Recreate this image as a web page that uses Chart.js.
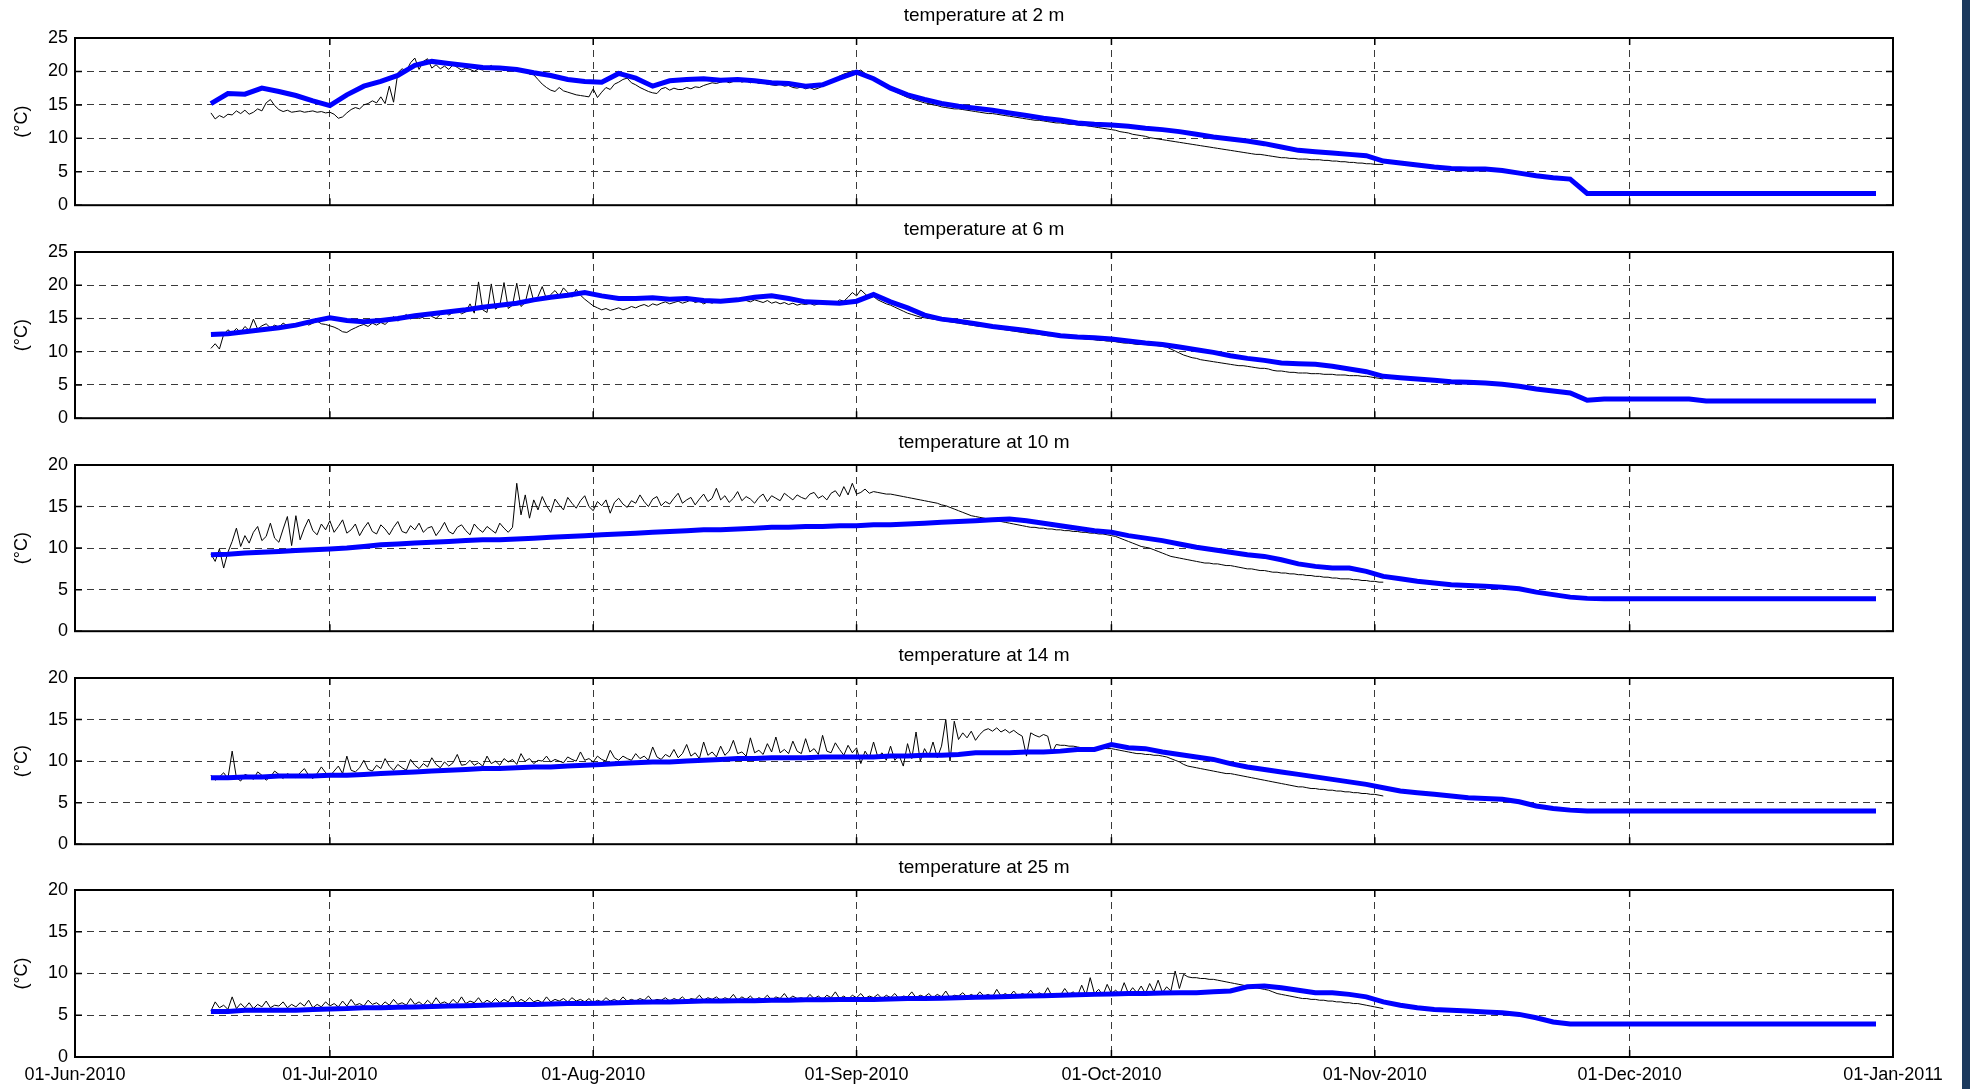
<!DOCTYPE html>
<html>
<head>
<meta charset="utf-8">
<script src="https://cdn.jsdelivr.net/npm/chart.js@4.4.1/dist/chart.umd.min.js"></script>
<style>
html, body { margin: 0; padding: 0; background: #fff; }
body { width: 1970px; height: 1089px; position: relative; overflow: hidden; }
canvas { position: absolute; left: 0; }
#bar { position: absolute; left: 1962px; top: 0; width: 8px; height: 1089px; background: #1c3a5e; }
</style>
</head>
<body>
<div id="bar"></div>
<script>
// x axis: days counted from 01-Jun-2010
var monthDays = [0, 30, 61, 92, 122, 153, 183, 214];
var monthLabels = ['01-Jun-2010', '01-Jul-2010', '01-Aug-2010', '01-Sep-2010', '01-Oct-2010', '01-Nov-2010', '01-Dec-2010', '01-Jan-2011'];

var depthTitles = ['temperature at 2 m', 'temperature at 6 m', 'temperature at 10 m', 'temperature at 14 m', 'temperature at 25 m'];
var yMax = [25, 25, 20, 20, 20];

// measured series, one value every half day from day 16
var OBS_START = 16, OBS_STEP = 0.5;
var obs2m = [
  13.8, 12.9, 13.4, 13.1, 13.6, 13.5, 14.1, 13.7, 14.2, 13.6,
  13.9, 14.4, 14.1, 15.3, 15.8, 14.9, 14.3, 14.0, 14.2, 13.9,
  14.0, 14.1, 13.9, 14.0, 14.1, 13.9, 14.0, 13.8, 13.9, 13.6,
  13.0, 13.2, 13.8, 14.3, 14.6, 14.4, 15.0, 15.2, 15.6, 15.3,
  16.2, 15.2, 17.8, 15.4, 19.8, 20.4, 20.1, 21.3, 22.0, 20.3,
  21.5, 21.9, 20.5, 21.0, 20.4, 20.8, 20.3, 21.0, 20.6, 20.2,
  20.5, 20.3, 20.0, 20.4, 20.2, 20.5, 20.9, 20.3, 20.6, 20.1,
  20.4, 20.2, 20.3, 20.4, 20.0, 19.6, 19.5, 18.8, 18.1, 17.6,
  17.2, 17.0, 17.6, 17.1, 16.9, 16.7, 16.5, 16.4, 16.3, 16.2,
  17.4, 16.1, 16.9, 17.6, 17.3, 18.1, 18.4, 18.8, 19.0, 18.3,
  18.0, 17.6, 17.3, 17.0, 16.8, 16.7, 17.4, 17.6, 17.2, 17.5,
  17.3, 17.3, 17.6, 17.4, 17.7, 17.6, 17.9, 18.1, 18.3, 18.2,
  18.4, 18.6, 18.3, 18.5, 18.7, 18.4, 18.6, 18.3, 18.5, 18.2,
  18.3, 18.1, 18.0, 17.9, 18.1, 17.8, 17.9, 17.6, 17.5, 17.7,
  17.4, 17.6, 17.3, 17.5, 17.8, 18.2, 18.6, 18.9, 19.3, 19.6,
  19.8, 20.1, 20.0, 20.2, 19.7, 19.3, 18.8, 18.4, 18.1, 17.7,
  17.3, 17.0, 16.7, 16.4, 16.1, 15.9, 15.7, 15.5, 15.3, 15.2,
  15.0, 14.9, 14.7, 14.6, 14.5, 14.4, 14.4, 14.3, 14.2, 14.1,
  14.0, 13.9, 13.8, 13.7, 13.7, 13.6, 13.5, 13.4, 13.3, 13.2,
  13.1, 13.0, 12.9, 12.8, 12.7, 12.7, 12.6, 12.5, 12.4, 12.3,
  12.3, 12.2, 12.1, 12.1, 12.0, 11.9, 11.9, 11.8, 11.7, 11.6,
  11.5, 11.4, 11.3, 11.2, 11.0, 10.9, 10.8, 10.6, 10.5, 10.4,
  10.3, 10.1, 10.0, 9.9, 9.8, 9.7, 9.6, 9.5, 9.4, 9.3,
  9.2, 9.1, 9.0, 8.9, 8.8, 8.7, 8.6, 8.5, 8.4, 8.3,
  8.2, 8.1, 8.0, 7.9, 7.8, 7.7, 7.6, 7.6, 7.5, 7.4,
  7.3, 7.2, 7.1, 7.1, 7.0, 7.0, 6.9, 6.9, 6.9, 6.8,
  6.8, 6.8, 6.7, 6.7, 6.6, 6.6, 6.5, 6.5, 6.4, 6.4,
  6.3, 6.3, 6.2, 6.2, 6.1, 6.1, 6.1
];
var obs6m = [
  10.5, 11.2, 10.4, 12.6, 13.3, 12.8, 13.5, 12.9, 13.8, 13.2,
  14.9, 13.4, 13.9, 14.2, 13.6, 14.0, 13.7, 14.3, 13.9, 14.1,
  13.8, 14.2, 14.5, 14.0, 14.3, 14.6, 14.2, 14.1, 13.9, 13.7,
  13.4, 13.0, 12.9, 13.3, 13.6, 13.9, 14.1, 13.8, 14.3, 14.0,
  14.4, 14.1, 14.7, 15.3, 14.6, 15.1, 15.6, 14.9, 15.4, 15.0,
  15.2, 15.8, 15.3, 15.0, 15.6, 16.1, 15.5, 15.9, 16.3, 15.7,
  16.0, 17.2, 15.8, 20.5, 16.3, 15.9, 20.2, 16.4, 16.9, 20.4,
  16.5, 17.0, 20.3, 16.8, 17.4, 20.1, 17.6, 18.3, 19.8, 17.9,
  18.6, 19.2, 18.4, 19.6, 18.9, 18.2, 19.4, 18.5, 17.9, 17.4,
  16.9, 16.6, 16.3, 16.5, 16.2, 16.4, 16.6, 16.3, 16.5, 16.8,
  16.6, 16.9, 17.1, 16.8, 17.2, 17.0, 17.3, 17.5, 17.2, 17.4,
  17.6, 17.3, 17.5, 17.8, 17.4, 17.6, 17.2, 17.5, 17.3, 17.6,
  17.4, 17.7, 17.5, 17.8, 17.6, 17.9, 17.7, 17.5, 17.8, 17.6,
  17.4, 17.7, 17.3, 17.5, 17.2, 17.4, 17.1, 17.3, 17.0, 17.2,
  17.1, 17.3, 17.0, 17.2, 17.4, 17.1, 17.5, 17.3, 17.8, 17.6,
  18.2, 18.9, 18.4, 19.3, 18.7, 18.1, 18.3, 17.8, 17.5, 17.2,
  17.0, 16.7, 16.4, 16.1, 15.8, 15.6, 15.4, 15.2, 15.1, 15.0,
  14.9, 14.8, 14.7, 14.6, 14.5, 14.4, 14.3, 14.2, 14.1, 14.0,
  13.9, 13.8, 13.8, 13.7, 13.6, 13.5, 13.4, 13.3, 13.2, 13.1,
  13.0, 12.9, 12.8, 12.7, 12.7, 12.6, 12.5, 12.4, 12.4, 12.3,
  12.2, 12.2, 12.1, 12.1, 12.0, 12.0, 11.9, 11.9, 11.8, 11.7,
  11.7, 11.6, 11.6, 11.5, 11.4, 11.3, 11.3, 11.2, 11.1, 11.1,
  11.1, 11.0, 11.0, 10.9, 10.8, 10.7, 10.4, 10.1, 9.8, 9.5,
  9.3, 9.1, 9.0, 8.8, 8.7, 8.6, 8.5, 8.4, 8.3, 8.2,
  8.1, 8.0, 7.9, 7.9, 7.8, 7.7, 7.6, 7.5, 7.5, 7.4,
  7.2, 7.1, 7.1, 7.0, 6.9, 6.9, 6.8, 6.8, 6.8, 6.7,
  6.7, 6.7, 6.6, 6.6, 6.6, 6.5, 6.5, 6.5, 6.4, 6.4,
  6.4, 6.3, 6.3, 6.2, 6.1, 6.0, 5.9
];
var obs10m = [
  9.3, 8.4, 9.9, 7.6, 9.5, 10.8, 12.4, 10.2, 11.5, 10.6,
  11.9, 12.6, 10.9, 11.4, 13.0, 11.2, 10.7, 12.3, 13.8, 10.3,
  13.9, 11.0, 12.4, 13.5, 12.1, 11.6, 12.9, 12.2, 13.3, 11.9,
  12.6, 13.4, 11.8, 12.2, 12.9, 11.5, 12.4, 13.1, 12.0, 11.7,
  12.8, 12.3, 11.6, 12.5, 13.2, 12.0, 11.8, 12.7, 12.2, 13.0,
  11.9, 12.4, 12.6, 11.5, 12.2, 13.1, 12.0, 11.7, 12.5, 12.8,
  12.1, 11.6, 12.9, 12.3, 11.9, 12.6, 12.2, 11.8, 13.0, 12.4,
  11.9, 12.5, 17.8, 14.0, 16.4, 13.6, 15.8, 14.6, 16.2, 15.1,
  14.3, 15.9, 15.2, 14.6, 16.1, 15.4, 14.8, 15.7, 16.3, 15.0,
  14.5, 15.6, 15.1, 15.8, 14.2, 15.5, 16.0, 15.3, 14.9, 15.7,
  15.4, 16.4, 15.6, 15.0, 15.9, 16.2, 15.1, 15.6, 15.3, 16.0,
  16.6, 15.4, 15.8, 16.1, 15.2, 15.9, 16.5, 15.6, 16.0, 17.2,
  15.8, 16.3, 15.5, 16.0, 16.8, 15.7, 16.2, 15.9, 15.4, 16.1,
  16.5, 15.6, 16.3, 16.0, 15.7, 16.6, 16.2, 15.8, 16.4, 16.1,
  15.9, 16.5, 16.7, 16.0, 16.3, 15.8, 16.6, 16.9, 16.2, 17.4,
  16.4, 17.8, 16.5, 16.7, 17.1, 16.6, 16.8, 16.7, 16.6, 16.5,
  16.5, 16.4, 16.3, 16.2, 16.1, 16.0, 15.9, 15.8, 15.7, 15.6,
  15.5, 15.4, 15.2, 15.1, 14.9, 14.7, 14.5, 14.3, 14.1, 13.9,
  13.8, 13.7, 13.6, 13.5, 13.4, 13.3, 13.2, 13.1, 13.0, 12.9,
  12.8, 12.7, 12.6, 12.5, 12.5, 12.4, 12.4, 12.3, 12.3, 12.2,
  12.2, 12.1, 12.1, 12.0, 12.0, 11.9, 11.9, 11.8, 11.8, 11.7,
  11.7, 11.6, 11.5, 11.4, 11.2, 11.0, 10.8, 10.6, 10.4, 10.2,
  10.1, 10.0, 9.8, 9.6, 9.4, 9.2, 9.0, 8.9, 8.8, 8.7,
  8.6, 8.5, 8.4, 8.3, 8.2, 8.2, 8.1, 8.1, 8.0, 7.9,
  7.9, 7.8, 7.7, 7.6, 7.5, 7.5, 7.4, 7.3, 7.3, 7.2,
  7.1, 7.1, 7.0, 7.0, 6.9, 6.9, 6.8, 6.8, 6.7, 6.7,
  6.6, 6.6, 6.5, 6.5, 6.4, 6.4, 6.3, 6.3, 6.3, 6.2,
  6.2, 6.1, 6.1, 6.0, 6.0, 5.9, 5.9
];
var obs14m = [
  8.3, 7.7, 8.1, 8.6, 7.9, 11.2, 8.0, 7.6, 8.4, 8.2,
  7.8, 8.7, 8.3, 7.7, 8.1, 8.8, 8.4, 7.9, 8.5, 8.2,
  8.0, 8.6, 9.1, 8.3, 7.9, 8.5, 9.3, 8.6, 8.2, 8.8,
  9.4, 8.5, 10.6, 8.9, 8.7, 9.2, 10.1, 9.0, 8.8, 9.5,
  9.1, 10.3, 9.4, 8.9, 9.6, 9.2, 8.9, 10.2, 9.5, 9.1,
  9.7, 9.3, 10.4, 9.6, 9.2, 9.9, 9.4, 9.8, 10.8, 9.5,
  9.6, 10.1, 9.5, 9.8, 9.4, 10.6, 9.7, 10.0, 9.5, 10.3,
  9.9, 10.2, 9.6, 10.9, 10.0, 10.3, 9.7, 10.1, 10.0, 10.6,
  9.9, 10.2, 10.0, 9.8, 10.5, 10.2, 10.0, 11.1, 10.1, 10.3,
  9.9, 10.6, 10.2, 10.0, 11.3, 10.4, 10.1, 10.6, 10.3, 10.1,
  10.9, 10.3, 10.6, 10.1, 11.7, 10.5, 10.2, 10.8, 10.5, 11.4,
  10.4, 10.9, 12.0, 10.6, 11.0, 10.3, 12.3, 10.7, 11.1, 10.5,
  11.8, 10.7, 11.2, 12.5, 10.9, 11.1, 10.6, 12.8, 11.0, 11.3,
  10.8, 12.1, 11.1, 12.9, 11.0, 11.4, 10.9, 12.4, 11.2, 10.9,
  12.7, 11.1, 11.5, 10.8, 13.1, 11.2, 11.0, 12.2, 11.4, 10.7,
  11.9, 11.0, 11.6, 9.7, 11.2, 10.4, 12.3, 10.5, 11.0, 10.1,
  11.8, 10.1, 10.7, 9.4, 12.1, 10.3, 13.5, 10.0, 11.5, 10.6,
  12.3, 10.4, 11.8, 15.0, 10.0, 14.8, 12.6, 13.4, 12.8, 13.6,
  12.5, 13.2, 13.7, 13.9, 13.6, 14.0, 13.5, 13.8, 13.4, 13.7,
  13.3, 13.0, 10.6, 13.4, 13.1, 12.9, 13.2, 13.0, 11.0, 12.0,
  11.9, 11.9, 11.8, 11.8, 11.7, 11.6, 11.6, 11.6, 11.5, 11.6,
  11.6, 11.5, 11.5, 11.4, 11.3, 11.2, 11.1, 11.0, 10.9, 10.9,
  10.8, 10.8, 10.7, 10.7, 10.6, 10.5, 10.3, 10.1, 9.9, 9.6,
  9.4, 9.3, 9.2, 9.1, 9.0, 8.9, 8.8, 8.7, 8.6, 8.5,
  8.5, 8.4, 8.3, 8.2, 8.1, 8.0, 7.9, 7.8, 7.7, 7.6,
  7.5, 7.4, 7.3, 7.2, 7.1, 7.0, 6.9, 6.9, 6.8, 6.7,
  6.7, 6.6, 6.6, 6.5, 6.5, 6.4, 6.4, 6.3, 6.3, 6.2,
  6.2, 6.1, 6.1, 6.0, 6.0, 5.9, 5.8
];
var obs25m = [
  5.5, 6.6, 5.9, 6.2, 5.7, 7.2, 5.8, 6.4, 5.9, 6.5,
  5.8, 6.3, 6.0, 6.7, 5.9, 6.2, 6.1, 6.6, 5.9, 6.3,
  6.0, 6.5, 6.1, 6.8, 5.9, 6.3, 6.0, 6.6, 6.1, 6.4,
  6.0, 6.7, 6.1, 6.9, 6.2, 6.4, 6.1, 6.8, 6.3, 6.5,
  6.1, 6.6, 6.2, 6.9, 6.3, 6.5, 6.2, 7.0, 6.3, 6.6,
  6.2, 6.8, 6.3, 7.1, 6.4, 6.6, 6.3, 6.9, 6.4, 7.2,
  6.4, 6.7, 6.5, 7.1, 6.4, 6.8, 6.5, 7.0, 6.5, 6.9,
  6.6, 7.3, 6.5, 6.9, 6.6, 7.1, 6.6, 6.8, 6.5, 7.2,
  6.6, 6.9, 6.7, 7.0, 6.6, 7.1, 6.7, 6.9, 6.6, 7.0,
  6.5, 6.8, 6.6, 7.1, 6.7, 6.9, 6.6, 7.2, 6.7, 6.9,
  6.7, 7.0, 6.8, 7.3, 6.7, 6.9, 6.8, 7.1, 6.7, 7.0,
  6.8, 7.2, 6.7, 7.0, 6.9, 7.4, 6.8, 7.1, 6.9, 7.2,
  6.8, 7.1, 6.9, 7.5, 6.8, 7.2, 6.9, 7.3, 6.8, 7.1,
  6.9, 7.4, 6.8, 7.2, 7.0, 7.6, 6.9, 7.3, 7.0, 7.1,
  6.9, 7.5, 7.0, 7.3, 6.9, 7.4, 7.1, 7.8, 7.0, 7.3,
  6.9, 7.4, 7.1, 7.6, 7.0, 7.3, 7.1, 7.5, 7.0, 7.4,
  7.1, 7.6, 7.0, 7.3, 7.2, 7.8, 7.1, 7.4, 7.2, 7.6,
  7.1, 7.5, 7.2, 7.9, 7.1, 7.4, 7.3, 7.7, 7.2, 7.5,
  7.2, 7.8, 7.3, 7.5, 7.2, 8.1, 7.3, 7.6, 7.3, 7.9,
  7.3, 7.6, 7.4, 8.0, 7.3, 7.7, 7.4, 8.3, 7.3, 7.6,
  7.4, 8.2, 7.5, 7.8, 7.3, 8.6, 7.4, 9.5, 7.6, 8.1,
  7.4, 8.7, 7.6, 8.0, 7.5, 8.9, 7.6, 8.3, 7.7, 8.5,
  7.6, 8.8, 7.8, 9.2, 7.7, 8.4, 7.9, 10.3, 8.2, 9.9,
  9.6, 9.5, 9.5, 9.4, 9.4, 9.3, 9.3, 9.2, 9.1, 9.0,
  8.9, 8.8, 8.7, 8.6, 8.5, 8.4, 8.3, 8.2, 8.1, 8.0,
  7.8, 7.6, 7.5, 7.4, 7.3, 7.2, 7.1, 7.0, 7.0, 6.9,
  6.9, 6.8, 6.8, 6.7, 6.7, 6.6, 6.6, 6.5, 6.5, 6.4,
  6.4, 6.3, 6.2, 6.1, 6.0, 5.9, 5.8
];

// model series, one value every 2 days from day 16
var MODEL_START = 16, MODEL_STEP = 2;
var model2m = [
  15.2, 16.7, 16.6, 17.5, 17.0, 16.4, 15.6, 14.9, 16.5, 17.8,
  18.5, 19.4, 20.9, 21.5, 21.2, 20.9, 20.6, 20.5, 20.3, 19.8,
  19.4, 18.8, 18.5, 18.4, 19.7, 19.0, 17.8, 18.6, 18.8, 18.9,
  18.7, 18.8, 18.6, 18.3, 18.2, 17.8, 18.0, 19.0, 19.9, 18.9,
  17.5, 16.5, 15.8, 15.2, 14.8, 14.5, 14.2, 13.8, 13.4, 13.0,
  12.7, 12.3, 12.1, 12.0, 11.8, 11.5, 11.3, 11.0, 10.6, 10.2,
  9.9, 9.6, 9.2, 8.7, 8.2, 8.0, 7.8, 7.6, 7.4, 6.6,
  6.3, 6.0, 5.7, 5.5, 5.4, 5.4, 5.2, 4.8, 4.4, 4.1,
  3.9, 1.75, 1.75, 1.75, 1.75, 1.75, 1.75, 1.75, 1.75, 1.75,
  1.75, 1.75, 1.75, 1.75, 1.75, 1.75, 1.75, 1.75, 1.75
];
var model6m = [
  12.6, 12.7, 13.0, 13.3, 13.6, 14.0, 14.6, 15.1, 14.7, 14.5,
  14.7, 15.0, 15.4, 15.7, 16.0, 16.3, 16.7, 17.0, 17.3, 17.8,
  18.2, 18.5, 18.9, 18.4, 18.0, 18.0, 18.1, 17.9, 18.0, 17.7,
  17.6, 17.8, 18.2, 18.4, 18.0, 17.5, 17.4, 17.3, 17.6, 18.6,
  17.5, 16.6, 15.5, 14.9, 14.6, 14.2, 13.8, 13.5, 13.2, 12.8,
  12.4, 12.2, 12.1, 11.9, 11.6, 11.3, 11.1, 10.7, 10.3, 9.9,
  9.4, 9.0, 8.7, 8.3, 8.2, 8.1, 7.8, 7.4, 7.0, 6.3,
  6.1, 5.9, 5.7, 5.5, 5.4, 5.3, 5.1, 4.8, 4.4, 4.1,
  3.8, 2.7, 2.9, 2.9, 2.9, 2.9, 2.9, 2.9, 2.6, 2.6,
  2.6, 2.6, 2.6, 2.6, 2.6, 2.6, 2.6, 2.6, 2.6
];
var model10m = [
  9.2, 9.25, 9.4, 9.5, 9.6, 9.7, 9.8, 9.9, 10.0, 10.2,
  10.4, 10.5, 10.6, 10.7, 10.8, 10.9, 11.0, 11.0, 11.1, 11.2,
  11.3, 11.4, 11.5, 11.6, 11.7, 11.8, 11.9, 12.0, 12.1, 12.2,
  12.2, 12.3, 12.4, 12.5, 12.5, 12.6, 12.6, 12.7, 12.7, 12.8,
  12.8, 12.9, 13.0, 13.1, 13.2, 13.3, 13.4, 13.5, 13.3, 13.0,
  12.7, 12.4, 12.1, 11.9, 11.5, 11.2, 10.9, 10.5, 10.1, 9.8,
  9.5, 9.2, 9.0, 8.6, 8.1, 7.8, 7.6, 7.6, 7.2, 6.6,
  6.3, 6.0, 5.8, 5.6, 5.5, 5.4, 5.3, 5.1, 4.7, 4.4,
  4.1, 3.95, 3.9, 3.9, 3.9, 3.9, 3.9, 3.9, 3.9, 3.9,
  3.9, 3.9, 3.9, 3.9, 3.9, 3.9, 3.9, 3.9, 3.9
];
var model14m = [
  8.0, 8.0, 8.1, 8.1, 8.2, 8.2, 8.2, 8.3, 8.3, 8.4,
  8.5, 8.6, 8.7, 8.8, 8.9, 9.0, 9.1, 9.1, 9.2, 9.3,
  9.3, 9.4, 9.5, 9.6, 9.7, 9.8, 9.9, 9.9, 10.0, 10.1,
  10.2, 10.3, 10.3, 10.4, 10.4, 10.4, 10.5, 10.5, 10.5, 10.5,
  10.6, 10.6, 10.7, 10.7, 10.8, 11.0, 11.0, 11.0, 11.1, 11.1,
  11.2, 11.4, 11.4, 12.0, 11.6, 11.5, 11.1, 10.8, 10.5, 10.2,
  9.7, 9.3, 9.0, 8.7, 8.4, 8.1, 7.8, 7.5, 7.2, 6.8,
  6.4, 6.2, 6.0, 5.8, 5.6, 5.5, 5.4, 5.1, 4.6, 4.3,
  4.1, 4.0, 4.0, 4.0, 4.0, 4.0, 4.0, 4.0, 4.0, 4.0,
  4.0, 4.0, 4.0, 4.0, 4.0, 4.0, 4.0, 4.0, 4.0
];
var model25m = [
  5.45, 5.45, 5.6, 5.6, 5.6, 5.6, 5.7, 5.75, 5.8, 5.9,
  5.9, 5.95, 6.0, 6.05, 6.1, 6.15, 6.2, 6.25, 6.3, 6.3,
  6.35, 6.4, 6.4, 6.45, 6.5, 6.55, 6.6, 6.6, 6.65, 6.7,
  6.7, 6.75, 6.75, 6.8, 6.8, 6.85, 6.85, 6.9, 6.9, 6.9,
  6.95, 7.0, 7.0, 7.05, 7.1, 7.15, 7.2, 7.25, 7.3, 7.35,
  7.4, 7.45, 7.5, 7.55, 7.6, 7.6, 7.65, 7.7, 7.7, 7.8,
  7.9, 8.4, 8.5, 8.3, 8.0, 7.7, 7.7, 7.5, 7.2, 6.6,
  6.2, 5.9, 5.7, 5.6, 5.5, 5.4, 5.3, 5.1, 4.7, 4.2,
  3.95, 3.95, 3.95, 3.95, 3.95, 3.95, 3.95, 3.95, 3.95, 3.95,
  3.95, 3.95, 3.95, 3.95, 3.95, 3.95, 3.95, 3.95, 3.95
];

var observed = [obs2m, obs6m, obs10m, obs14m, obs25m];
var modelled = [model2m, model6m, model10m, model14m, model25m];

// layout of the five panels (page pixels)
var plotTop = [38, 252, 465, 678, 890];
var plotBottom = [207, 420, 633, 846, 1057];
var FONT = "'Liberation Sans', Arial, Helvetica, sans-serif";
var CANVAS_W = 1960;

Chart.defaults.font.family = FONT;
Chart.defaults.color = '#000';

// black box round the plot area with inward ticks
var framePlugin = {
    id: 'frame',
    afterDatasetsDraw: function(chart) {
        var ctx = chart.ctx, a = chart.chartArea;
        var xs = chart.scales.x, ys = chart.scales.y;
        ctx.save();
        ctx.strokeStyle = '#000';
        ctx.lineWidth = 2;
        ctx.strokeRect(a.left, a.top, a.right - a.left, a.bottom - a.top);
        ctx.lineWidth = 1.5;
        ctx.beginPath();
        xs.ticks.forEach(function(t) {
            var px = xs.getPixelForValue(t.value);
            ctx.moveTo(px, a.top); ctx.lineTo(px, a.top + 7);
            ctx.moveTo(px, a.bottom); ctx.lineTo(px, a.bottom - 7);
        });
        ys.ticks.forEach(function(t) {
            var py = ys.getPixelForValue(t.value);
            ctx.moveTo(a.left, py); ctx.lineTo(a.left + 7, py);
            ctx.moveTo(a.right, py); ctx.lineTo(a.right - 7, py);
        });
        ctx.stroke();
        ctx.restore();
    }
};

function toPoints(values, start, step) {
    return values.map(function(v, i) { return { x: start + i * step, y: v }; });
}

function makePanel(p) {
    var last = (p === 4);
    var cv = document.createElement('canvas');
    var canvasTop = plotTop[p] - 38;
    var extraBottom = last ? 32 : 16;
    var h = plotBottom[p] - plotTop[p] + 38 + extraBottom;
    cv.width = CANVAS_W;
    cv.height = h;
    cv.style.top = canvasTop + 'px';
    cv.style.width = CANVAS_W + 'px';
    cv.style.height = h + 'px';
    document.body.appendChild(cv);

    new Chart(cv.getContext('2d'), {
        type: 'line',
        data: {
            datasets: [{
                label: 'model',
                data: toPoints(modelled[p], MODEL_START, MODEL_STEP),
                borderColor: '#0000ff',
                borderWidth: 5,
                pointRadius: 0,
                tension: 0,
                fill: false
            }, {
                label: 'measured',
                data: toPoints(observed[p], OBS_START, OBS_STEP),
                borderColor: '#000000',
                borderWidth: 1,
                pointRadius: 0,
                tension: 0,
                fill: false
            }]
        },
        options: {
            responsive: false,
            animation: false,
            events: [],
            layout: { padding: { left: 0, right: CANVAS_W - 1893, top: 0, bottom: last ? 2 : extraBottom } },
            plugins: {
                legend: { display: false },
                tooltip: { enabled: false },
                title: {
                    display: true,
                    text: depthTitles[p],
                    fullSize: false,
                    color: '#000',
                    font: { size: 19, weight: 'normal', family: FONT },
                    padding: { top: 4, bottom: 11.2 }
                }
            },
            scales: {
                x: {
                    type: 'linear',
                    min: 0,
                    max: 214,
                    afterBuildTicks: function(scale) {
                        scale.ticks = monthDays.map(function(v) { return { value: v }; });
                    },
                    afterFit: function(scale) { scale.height = last ? 30 : 0; },
                    ticks: {
                        display: last,
                        autoSkip: false,
                        maxRotation: 0,
                        padding: 7,
                        color: '#000',
                        font: { size: 18 },
                        callback: function(v) { return monthLabels[monthDays.indexOf(v)]; }
                    },
                    grid: { color: '#3a3a3a', lineWidth: 1, drawTicks: false },
                    border: { display: false, dash: [7, 5] }
                },
                y: {
                    min: 0,
                    max: yMax[p],
                    afterFit: function(scale) { scale.width = 75; },
                    ticks: { stepSize: 5, padding: 7, color: '#000', font: { size: 18 } },
                    grid: { color: '#3a3a3a', lineWidth: 1, drawTicks: false },
                    border: { display: false, dash: [7, 5] },
                    title: {
                        display: true,
                        text: '(°C)',
                        color: '#000',
                        font: { size: 18 },
                        padding: { top: 11, bottom: 0 }
                    }
                }
            }
        },
        plugins: [framePlugin]
    });
}

for (var i = 0; i < 5; i++) {
    makePanel(i);
}
</script>
</body>
</html>
